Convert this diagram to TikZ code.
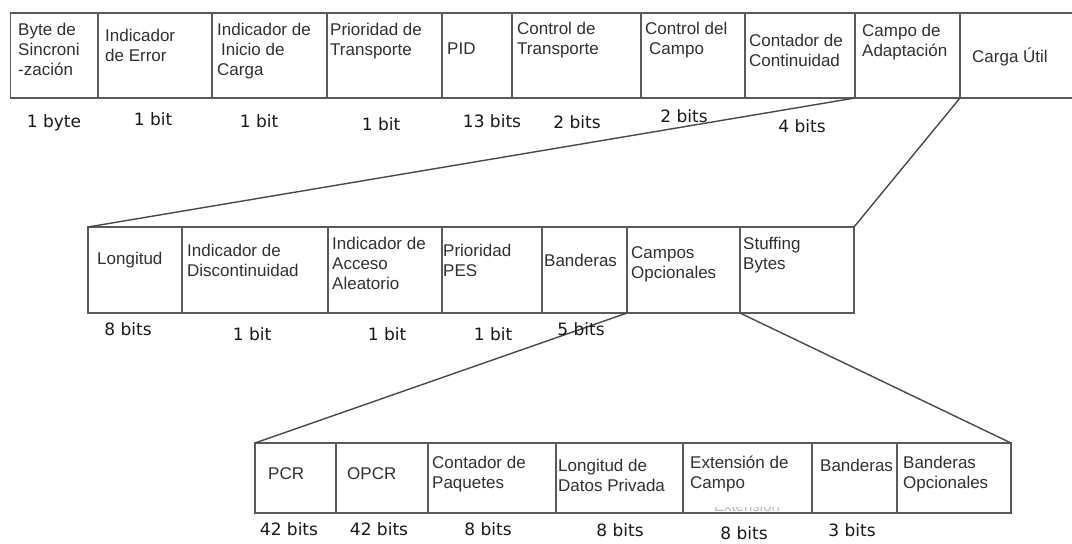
\documentclass[tikz,border=0pt]{standalone}
\usepackage{fontspec}
\setmainfont{Liberation Sans}
\newfontfamily\lblfont{DejaVu Sans}
\definecolor{bordergray}{HTML}{5A5A5A}
\definecolor{txtgray}{HTML}{303030}
\definecolor{lblgray}{HTML}{181818}
\begin{document}
\begin{tikzpicture}[x=1pt,y=-1pt,
  cell/.style={draw=bordergray, line width=1.5pt, anchor=north west, inner sep=0pt, outer sep=0pt, fill=none},
  topcell/.style={cell, line width=1.9pt},
  txt/.style={anchor=north west, inner sep=0pt, align=left, text=txtgray, font=\fontsize{17}{20}\selectfont},
  lbl/.style={anchor=base, inner sep=0pt, text=lblgray, font=\lblfont\fontsize{17}{20}\selectfont},
  conn/.style={draw=bordergray!80!black, line width=1.4pt},
  ghost/.style={anchor=base, inner sep=0pt, text=gray!55, font=\fontsize{15}{17}\selectfont}]
\useasboundingbox (0,0) rectangle (1072,544);

% faint, almost hidden text fringe
\begin{scope}
\clip (695,507.5) rectangle (800,511);
\node[ghost] (gh) at (747,511) {Extensión};
\end{scope}

% ---- row 1
\node[topcell, minimum width=87.5pt, minimum height=85pt] (r1a) at (10.5,13) {};
\node[topcell, minimum width=114pt, minimum height=85pt] (r1b) at (98,13) {};
\node[topcell, minimum width=115pt, minimum height=85pt] (r1c) at (212,13) {};
\node[topcell, minimum width=115pt, minimum height=85pt] (r1d) at (327,13) {};
\node[topcell, minimum width=70pt, minimum height=85pt] (r1e) at (442,13) {};
\node[topcell, minimum width=129pt, minimum height=85pt] (r1f) at (512,13) {};
\node[topcell, minimum width=104pt, minimum height=85pt] (r1g) at (641,13) {};
\node[topcell, minimum width=110pt, minimum height=85pt] (r1h) at (745,13) {};
\node[topcell, minimum width=105pt, minimum height=85pt] (r1i) at (855,13) {};
\node[topcell, minimum width=118pt, minimum height=85pt] (r1j) at (960,13) {};

\node[txt] (t1a) at (18,21) {\strut Byte de\\Sincroni\\-zación};
\node[txt] (t1b) at (105,27) {\strut Indicador\\de Error};
\node[txt] (t1c) at (217,21) {\strut Indicador de\\\hspace{4pt}Inicio de\\Carga};
\node[txt] (t1d) at (330,21) {\strut Prioridad de\\Transporte};
\node[txt] (t1e) at (447,40) {\strut PID};
\node[txt] (t1f) at (517,20) {\strut Control de\\Transporte};
\node[txt] (t1g) at (645,20) {\strut Control del\\\hspace{4pt}Campo};
\node[txt] (t1h) at (749,32) {\strut Contador de\\Continuidad};
\node[txt] (t1i) at (862,22) {\strut Campo de\\Adaptación};
\node[txt] (t1j) at (972,48) {\strut Carga Útil};

\node[lbl] (l1a) at (54,127) {1 byte};
\node[lbl] (l1b) at (153,125) {1 bit};
\node[lbl] (l1c) at (259,127) {1 bit};
\node[lbl] (l1d) at (381,130) {1 bit};
\node[lbl] (l1e) at (492,127) {13 bits};
\node[lbl] (l1f) at (577,128) {2 bits};
\node[lbl] (l1g) at (684,122) {2 bits};
\node[lbl] (l1h) at (802,132) {4 bits};

% ---- row 2
\node[cell, minimum width=94pt, minimum height=86pt] (r2a) at (88,227) {};
\node[cell, minimum width=146pt, minimum height=86pt] (r2b) at (182,227) {};
\node[cell, minimum width=114pt, minimum height=86pt] (r2c) at (328,227) {};
\node[cell, minimum width=100pt, minimum height=86pt] (r2d) at (442,227) {};
\node[cell, minimum width=85pt, minimum height=86pt] (r2e) at (542,227) {};
\node[cell, minimum width=113pt, minimum height=86pt] (r2f) at (627,227) {};
\node[cell, minimum width=114pt, minimum height=86pt] (r2g) at (740,227) {};

\node[txt] (t2a) at (97,250) {\strut Longitud};
\node[txt] (t2b) at (187,242) {\strut Indicador de\\Discontinuidad};
\node[txt] (t2c) at (332,235) {\strut Indicador de\\Acceso\\Aleatorio};
\node[txt] (t2d) at (443,242) {\strut Prioridad\\PES};
\node[txt] (t2e) at (544,252) {\strut Banderas};
\node[txt] (t2f) at (631,244) {\strut Campos\\Opcionales};
\node[txt] (t2g) at (743,235) {\strut Stuffing\\Bytes};

\node[lbl] (l2a) at (128,335) {8 bits};
\node[lbl] (l2b) at (252,340) {1 bit};
\node[lbl] (l2c) at (387,340) {1 bit};
\node[lbl] (l2d) at (493,340) {1 bit};

% ---- row 3
\node[cell, minimum width=81pt, minimum height=70pt] (r3a) at (255,443) {};
\node[cell, minimum width=92pt, minimum height=70pt] (r3b) at (336,443) {};
\node[cell, minimum width=128pt, minimum height=70pt] (r3c) at (428,443) {};
\node[cell, minimum width=127pt, minimum height=70pt] (r3d) at (556,443) {};
\node[cell, minimum width=129pt, minimum height=70pt] (r3e) at (683,443) {};
\node[cell, minimum width=85pt, minimum height=70pt] (r3f) at (812,443) {};
\node[cell, minimum width=114pt, minimum height=70pt] (r3g) at (897,443) {};

\node[txt] (t3a) at (268,465) {\strut PCR};
\node[txt] (t3b) at (347,465) {\strut OPCR};
\node[txt] (t3c) at (432,454) {\strut Contador de\\Paquetes};
\node[txt] (t3d) at (558,457) {\strut Longitud de\\Datos Privada};
\node[txt] (t3e) at (690,454) {\strut Extensión de\\Campo};
\node[txt] (t3f) at (820,457) {\strut Banderas};
\node[txt] (t3g) at (903,454) {\strut Banderas\\Opcionales};

\node[lbl] (l3a) at (289,535) {42 bits};
\node[lbl] (l3b) at (379,535) {42 bits};
\node[lbl] (l3c) at (488,535) {8 bits};
\node[lbl] (l3d) at (620,536) {8 bits};
\node[lbl] (l3e) at (744,539) {8 bits};
\node[lbl] (l3f) at (852,536) {3 bits};

% ---- connectors
\draw[conn] (r1h.south east) -- (r2a.north west);
\draw[conn] (r1i.south east) -- (r2g.north east);
\draw[conn] (r2e.south east) -- (r3a.north west);
\draw[conn] (r2f.south east) -- (r3g.north east);

% label drawn over the connector as in the reference
\node[lbl] (l2e) at (581,335) {5 bits};
\end{tikzpicture}
\end{document}
